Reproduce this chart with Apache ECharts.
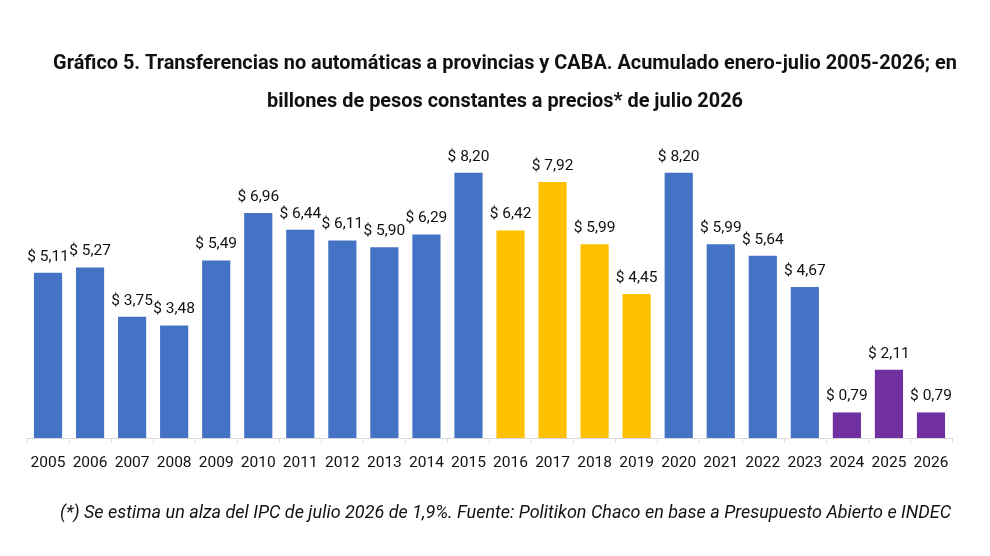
<!DOCTYPE html>
<html lang="es">
<head>
  <meta charset="UTF-8">
  <title>Gráfico 5</title>
  <style>
    html, body { margin: 0; padding: 0; background: #fff; }
  </style>
  <script src="https://cdn.jsdelivr.net/npm/echarts@6/dist/echarts.min.js"></script>
</head>
<body>
<div id="chart" style="width: 990px; height: 556px;"></div>
<script>
  // años y valores (billones de pesos constantes)
  const years = ['2005', '2006', '2007', '2008', '2009', '2010', '2011', '2012', '2013', '2014', '2015',
    '2016', '2017', '2018', '2019', '2020', '2021', '2022', '2023', '2024', '2025', '2026']
  const values = [5.11, 5.27, 3.75, 3.48, 5.49, 6.96, 6.44, 6.11, 5.90, 6.29, 8.20,
    6.42, 7.92, 5.99, 4.45, 8.20, 5.99, 5.64, 4.67, 0.79, 2.11, 0.79]
  // grupo de color por año
  const groups = ['a', 'a', 'a', 'a', 'a', 'a', 'a', 'a', 'a', 'a', 'a',
    'b', 'b', 'b', 'b', 'a', 'a', 'a', 'a', 'c', 'c', 'c']
  const colors = { a: '#4472C4', b: '#FFC000', c: '#7030A0' }

  const chart = echarts.init(document.getElementById('chart'))
  const option = {
    animation: false,
    title: [{
      text: 'Gráfico 5. Transferencias no automáticas a provincias y CABA. Acumulado enero-julio 2005-2026; en\nbillones de pesos constantes a precios* de julio 2026',
      left: 500,
      textAlign: 'center',
      top: 40,
      textStyle: {
        fontFamily: 'Roboto',
        fontWeight: 'bold',
        fontSize: 19.9,
        lineHeight: 38,
        color: '#111'
      }
    }, {
      text: '(*) Se estima un alza del IPC de julio 2026 de 1,9%. Fuente: Politikon Chaco en base a Presupuesto Abierto e INDEC',
      left: 55,
      top: 499,
      textStyle: {
        fontFamily: 'Roboto',
        fontStyle: 'italic',
        fontWeight: 'normal',
        fontSize: 18,
        color: '#111'
      }
    }],
    grid: { left: 27, right: 38, top: 147, bottom: 118 },
    xAxis: {
      type: 'category',
      data: years,
      axisLine: { lineStyle: { color: '#d9d9d9' } },
      axisTick: { show: true, length: 5, lineStyle: { color: '#d9d9d9' } },
      axisLabel: { color: '#111', fontSize: 15.5, fontFamily: 'Roboto', margin: 17, interval: 0 }
    },
    yAxis: {
      type: 'value',
      min: 0,
      max: 9,
      show: false,
      splitLine: { show: false }
    },
    series: [{
      type: 'bar',
      barCategoryGap: '33%',
      data: values.map((v, i) => ({ value: v, itemStyle: { color: colors[groups[i]] } })),
      label: {
        show: true,
        position: 'top',
        distance: 8,
        color: '#111',
        fontSize: 15.5,
        fontFamily: 'Roboto',
        formatter: p => '$ ' + p.value.toFixed(2).replace('.', ',')
      }
    }]
  }
  chart.setOption(option)
</script>
</body>
</html>
